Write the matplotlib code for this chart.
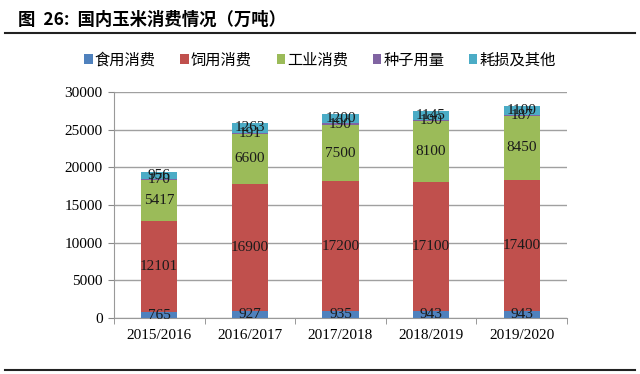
import matplotlib.pyplot as plt
import numpy as np
from matplotlib.lines import Line2D

plt.rcParams['font.family'] = ['Liberation Serif', 'Noto Sans CJK SC']

# data (万吨)
years = ["2015/2016", "2016/2017", "2017/2018", "2018/2019", "2019/2020"]
food = [765, 927, 935, 943, 943]
feed = [12101, 16900, 17200, 17100, 17400]
industry = [5417, 6600, 7500, 8100, 8450]
seed = [170, 191, 190, 190, 187]
loss = [956, 1263, 1200, 1145, 1100]

series = [food, feed, industry, seed, loss]
names = ["食用消费", "饲用消费", "工业消费", "种子用量", "耗损及其他"]
colors = ["#4F81BD", "#C0504D", "#9BBB59", "#8064A2", "#4BACC6"]

fig = plt.figure(figsize=(6.4, 3.74), dpi=100)
ax = fig.add_axes([0.178, 0.150, 0.708, 0.604])

x = np.arange(len(years))
bottom = np.zeros(len(years))
for vals, name, c in zip(series, names, colors):
    vals = np.array(vals, dtype=float)
    ax.bar(x, vals, 0.4, bottom=bottom, color=c, label=name, zorder=3)
    for xi, b, v in zip(x, bottom, vals):
        ax.text(xi, b + v / 2, f"{int(v)}", ha="center", va="center",
                fontsize=11, color="#1a1a1a", zorder=4)
    bottom += vals

ax.set_xlim(-0.5, len(years) - 0.5)
ax.set_ylim(0, 30000)
ax.set_yticks(np.arange(0, 30001, 5000))
ax.set_xticks(x)
ax.set_xticklabels(years)
ax.set_xticks(np.arange(-0.5, len(years)), minor=True)
ax.tick_params(axis="x", which="major", length=0, pad=8, labelsize=11)
ax.tick_params(axis="x", which="minor", length=4, color="#888888")
ax.tick_params(axis="y", length=4, color="#888888", labelsize=11, pad=4)
ax.yaxis.grid(True, color="#a0a0a0", linewidth=1, zorder=0)
for s in ["top", "right"]:
    ax.spines[s].set_visible(False)
ax.spines["left"].set_color("#999999")
ax.spines["bottom"].set_color("#999999")

fig.legend(loc="center", bbox_to_anchor=(0.50, 0.84), ncol=5, frameon=False,
           handlelength=0.55, handleheight=0.55, handletextpad=0.15, columnspacing=1.6,
           prop={"family": "Noto Sans CJK SC", "size": 11})

fig.text(0.028, 0.948, "图  26:  国内玉米消费情况（万吨）", fontsize=12.5,
         fontweight="bold", va="center", family=["Noto Sans CJK SC"])
fig.add_artist(Line2D([0.008, 0.992], [0.912, 0.912], color="#222222", lw=1.5))
fig.add_artist(Line2D([0.008, 0.992], [0.011, 0.011], color="#222222", lw=1.5))

fig.savefig("out.png", dpi=100)
